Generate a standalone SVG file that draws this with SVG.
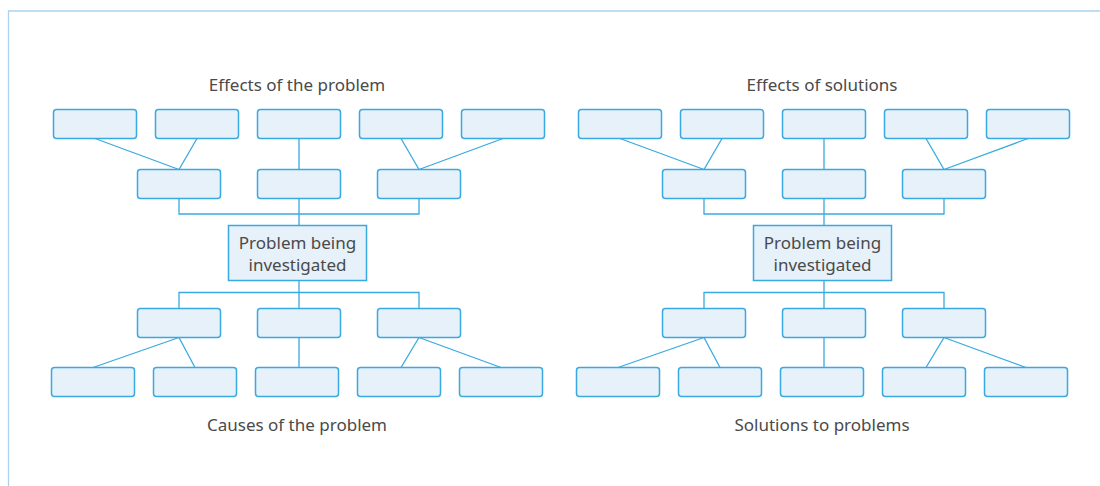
<svg xmlns="http://www.w3.org/2000/svg" width="1100" height="486" viewBox="0 0 1100 486">
<style>
.frame{fill:none;stroke:#a9d3ef;stroke-width:1.3}
.b{fill:#e6f1fa;stroke:#3aa9e0;stroke-width:1.5}
.p{fill:#e6f1fa;stroke:#3aa9e0;stroke-width:1.5}
.c{fill:none;stroke:#3aa9e0;stroke-width:1.3}
.t{font-family:"Noto Sans","Open Sans",sans-serif;font-size:17px;fill:#4a4a4a;text-anchor:middle}
</style>
<rect width="1100" height="486" fill="#ffffff"/>
<path class="frame" d="M8.5,486 V11 H1100"/>
<g id="connectors">
<path class="c" d="M95,138.5 L179,169.5 M197,138.5 L179,169.5 M299,138.5 V169.5 M401,138.5 L419,169.5 M503,138.5 L419,169.5 M179,198.5 V214 H419 V198.5 M299,198.5 V225.5 M299,280.5 V308.5 M179,308.5 V292.5 H419 V308.5 M179,337.5 L93,367.5 M179,337.5 L195,367.5 M299,337.5 V367.5 M419,337.5 L401,367.5 M419,337.5 L501,367.5"/>
<path class="c" transform="translate(525,0)" d="M95,138.5 L179,169.5 M197,138.5 L179,169.5 M299,138.5 V169.5 M401,138.5 L419,169.5 M503,138.5 L419,169.5 M179,198.5 V214 H419 V198.5 M299,198.5 V225.5 M299,280.5 V308.5 M179,308.5 V292.5 H419 V308.5 M179,337.5 L93,367.5 M179,337.5 L195,367.5 M299,337.5 V367.5 M419,337.5 L401,367.5 M419,337.5 L501,367.5"/>
</g>
<g id="left-title-top"><text class="t" x="297" y="91">Effects of the problem</text></g>
<g id="left-title-bottom"><text class="t" x="297" y="431">Causes of the problem</text></g>
<g id="right-title-top"><text class="t" x="822" y="91">Effects of solutions</text></g>
<g id="right-title-bottom"><text class="t" x="822" y="431">Solutions to problems</text></g>
<g id="L-t1"><rect class="b" x="53.5" y="109.5" width="83" height="29" rx="3"/></g>
<g id="L-t2"><rect class="b" x="155.5" y="109.5" width="83" height="29" rx="3"/></g>
<g id="L-t3"><rect class="b" x="257.5" y="109.5" width="83" height="29" rx="3"/></g>
<g id="L-t4"><rect class="b" x="359.5" y="109.5" width="83" height="29" rx="3"/></g>
<g id="L-t5"><rect class="b" x="461.5" y="109.5" width="83" height="29" rx="3"/></g>
<g id="L-m1"><rect class="b" x="137.5" y="169.5" width="83" height="29" rx="3"/></g>
<g id="L-m2"><rect class="b" x="257.5" y="169.5" width="83" height="29" rx="3"/></g>
<g id="L-m3"><rect class="b" x="377.5" y="169.5" width="83" height="29" rx="3"/></g>
<g id="L-problem"><rect class="p" x="228.5" y="225.5" width="138" height="55"/><text class="t" x="297.5" y="249">Problem being</text><text class="t" x="297.5" y="271">investigated</text></g>
<g id="L-n1"><rect class="b" x="137.5" y="308.5" width="83" height="29" rx="3"/></g>
<g id="L-n2"><rect class="b" x="257.5" y="308.5" width="83" height="29" rx="3"/></g>
<g id="L-n3"><rect class="b" x="377.5" y="308.5" width="83" height="29" rx="3"/></g>
<g id="L-b1"><rect class="b" x="51.5" y="367.5" width="83" height="29" rx="3"/></g>
<g id="L-b2"><rect class="b" x="153.5" y="367.5" width="83" height="29" rx="3"/></g>
<g id="L-b3"><rect class="b" x="255.5" y="367.5" width="83" height="29" rx="3"/></g>
<g id="L-b4"><rect class="b" x="357.5" y="367.5" width="83" height="29" rx="3"/></g>
<g id="L-b5"><rect class="b" x="459.5" y="367.5" width="83" height="29" rx="3"/></g>
<g id="R-t1"><rect class="b" x="578.5" y="109.5" width="83" height="29" rx="3"/></g>
<g id="R-t2"><rect class="b" x="680.5" y="109.5" width="83" height="29" rx="3"/></g>
<g id="R-t3"><rect class="b" x="782.5" y="109.5" width="83" height="29" rx="3"/></g>
<g id="R-t4"><rect class="b" x="884.5" y="109.5" width="83" height="29" rx="3"/></g>
<g id="R-t5"><rect class="b" x="986.5" y="109.5" width="83" height="29" rx="3"/></g>
<g id="R-m1"><rect class="b" x="662.5" y="169.5" width="83" height="29" rx="3"/></g>
<g id="R-m2"><rect class="b" x="782.5" y="169.5" width="83" height="29" rx="3"/></g>
<g id="R-m3"><rect class="b" x="902.5" y="169.5" width="83" height="29" rx="3"/></g>
<g id="R-problem"><rect class="p" x="753.5" y="225.5" width="138" height="55"/><text class="t" x="822.5" y="249">Problem being</text><text class="t" x="822.5" y="271">investigated</text></g>
<g id="R-n1"><rect class="b" x="662.5" y="308.5" width="83" height="29" rx="3"/></g>
<g id="R-n2"><rect class="b" x="782.5" y="308.5" width="83" height="29" rx="3"/></g>
<g id="R-n3"><rect class="b" x="902.5" y="308.5" width="83" height="29" rx="3"/></g>
<g id="R-b1"><rect class="b" x="576.5" y="367.5" width="83" height="29" rx="3"/></g>
<g id="R-b2"><rect class="b" x="678.5" y="367.5" width="83" height="29" rx="3"/></g>
<g id="R-b3"><rect class="b" x="780.5" y="367.5" width="83" height="29" rx="3"/></g>
<g id="R-b4"><rect class="b" x="882.5" y="367.5" width="83" height="29" rx="3"/></g>
<g id="R-b5"><rect class="b" x="984.5" y="367.5" width="83" height="29" rx="3"/></g>
</svg>
